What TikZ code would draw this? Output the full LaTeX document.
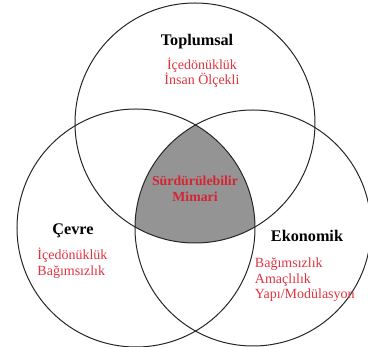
\documentclass[tikz,border=0pt]{standalone}
\usepackage{fontspec}
\setmainfont{Liberation Serif}
\usetikzlibrary{positioning}

\definecolor{itemred}{RGB}{224,52,64}
\definecolor{corered}{RGB}{214,36,50}

\begin{document}
\begin{tikzpicture}[x=1pt, y=-1pt, node distance=8pt,
    set/.style={circle, draw=black!85, line width=1pt, inner sep=0pt},
    head/.style={font=\fontsize{16.2}{18}\selectfont\bfseries, inner sep=0pt},
    items/.style={font=\fontsize{14}{15.5}\selectfont, text=itemred, inner sep=0pt},
    core/.style={font=\fontsize{13.8}{16}\selectfont\bfseries, text=corered, align=center, inner sep=0pt}]
    \useasboundingbox (0,0) rectangle (368,347);

    \coordinate (socc) at (195,123);
    \coordinate (envc) at (136,228);
    \coordinate (ecoc) at (253,228);

    % shared part of the three sets
    \begin{scope}
        \clip (socc) circle[radius=120pt];
        \clip (envc) circle[radius=119pt];
        \fill[black!42] (ecoc) circle[radius=118pt];
    \end{scope}

    \node[set, minimum size=240pt]  (soc)       at (socc)   {};
    \node[set, minimum size=238pt]  (env)       at (envc)   {};
    \node[set, minimum size=236pt]  (eco)       at (ecoc)   {};

    \node[head]                     (soclabel)  at (197,42)  {Toplumsal};
    \node[items, align=center]      (socitems)  [below=8pt of soclabel, xshift=5pt]  {İçedönüklük\\İnsan Ölçekli};

    \node[head]                     (envlabel)  at (73,231)  {Çevre};
    \node[items, align=left]        (envitems)  [below=10pt of envlabel.south west, anchor=north west, xshift=-15pt] {İçedönüklük\\Bağımsızlık};

    \node[head]                     (ecolabel)  at (307,236) {Ekonomik};
    \node[items, align=left]        (ecoitems)  [below=16pt of ecolabel.south west, anchor=north west, xshift=-16pt] {Bağımsızlık\\Amaçlılık\\Yapı/Modülasyon};

    \node[core]                     (corelabel) at (195,189) {Sürdürülebilir\\Mimari};
\end{tikzpicture}
\end{document}
